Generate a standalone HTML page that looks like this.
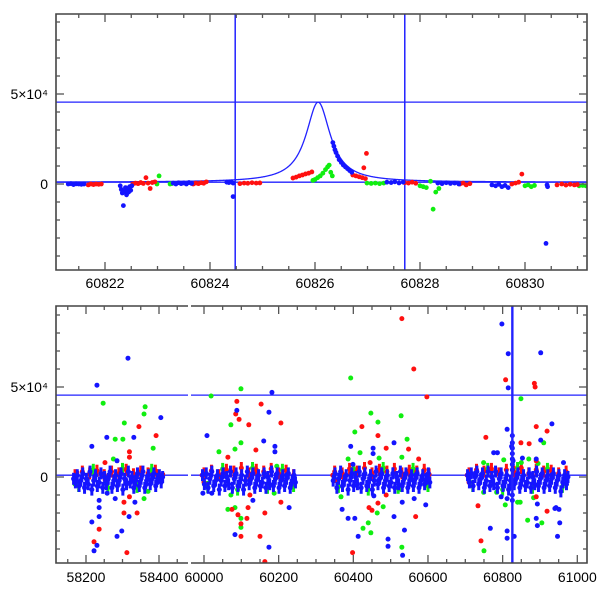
<!DOCTYPE html>
<html><head><meta charset="utf-8"><style>
html,body{margin:0;padding:0;background:#fff;}
svg{display:block;font-family:"Liberation Sans",sans-serif;}
</style></head><body>
<svg id="chart" width="600" height="600" viewBox="0 0 600 600" xmlns="http://www.w3.org/2000/svg">
<defs>
<clipPath id="cTop"><rect x="56" y="14" width="531" height="256"/></clipPath>
<clipPath id="cB1"><rect x="56" y="306" width="132" height="257"/></clipPath>
<clipPath id="cB2"><rect x="191" y="306" width="396" height="257"/></clipPath>
</defs>
<g id="top"></g>
<g id="bot"></g>
</svg>
<script>
// ---------- DATA (flux in units of 1e4) ----------
const topBlue = [[60821.30,0],[60821.35,0.02],[60821.40,-0.03],[60821.45,0.01],[60821.50,0],[60821.55,-0.02],[60821.60,0],
[60822.29,-0.1],[60822.31,-0.3],[60822.33,-0.5],[60822.35,-1.2],[60822.37,-0.4],[60822.39,-0.2],[60822.41,-0.6],[60822.43,-0.3],[60822.45,-0.45],[60822.47,-0.15],[60822.49,-0.35],[60822.51,-0.1],
[60823.30,0.05],[60823.35,0],[60823.40,0.07],[60823.45,0.02],[60823.50,0.06],[60823.55,0],[60823.60,0.08],[60823.65,0.03],
[60824.32,0.1],[60824.36,0.08],[60824.40,0.12],[60824.44,0.05],[60824.44,-0.7],
[60826.34,2.3],[60826.36,2.1],[60826.38,1.9],[60826.40,1.75],[60826.43,1.55],[60826.46,1.35],[60826.50,1.2],[60826.54,1.05],[60826.58,0.95],[60826.62,0.85],[60826.66,0.75],[60826.70,0.65],
[60827.37,0.1],[60827.45,0.08],[60827.52,0.12],[60827.60,0.06],[60827.68,0.1],
[60828.34,0.05],[60828.42,0.02],[60828.50,0.07],[60828.58,0.03],[60828.66,0.05],[60828.74,0],
[60829.37,-0.05],[60829.44,-0.1],[60829.50,-0.02],[60829.56,-0.15],[60829.62,-0.08],[60829.68,-0.2],
[60830.42,-0.05],[60830.43,-0.15],[60830.40,-3.3]];
const topRed = [[60821.68,-0.05],[60821.73,0],[60821.78,-0.03],[60821.83,0],[60821.88,-0.02],[60821.93,0],
[60822.53,0],[60822.58,0.05],[60822.63,0.02],[60822.68,0.08],[60822.73,0.03],[60822.78,0.35],[60822.82,0.05],[60822.86,-0.25],[60822.90,0.08],[60822.95,0.12],
[60823.68,0],[60823.73,0.05],[60823.78,0.02],[60823.83,0.07],[60823.88,0.04],[60823.93,0.12],
[60824.57,0.02],[60824.65,0.05],[60824.72,0.04],[60824.80,0.07],[60824.88,0.05],[60824.95,0.06],
[60825.58,0.33],[60825.64,0.38],[60825.70,0.45],[60825.76,0.5],[60825.82,0.56],[60825.88,0.6],[60825.94,0.67],
[60826.72,0.5],[60826.78,0.45],[60826.84,0.4],[60826.90,0.35],[60826.96,0.3],[60826.98,1.7],[60826.93,0.9],
[60827.71,0.07],[60827.78,0.05],[60827.85,0.1],[60827.92,0.04],
[60828.76,0],[60828.82,0.05],[60828.88,-0.05],[60828.95,0.02],
[60829.75,0],[60829.82,0.05],[60829.88,0.1],[60829.94,0.55],
[60830.61,-0.05],[60830.70,0],[60830.78,-0.06],[60830.86,-0.02],[60830.94,-0.05],[60831.00,-0.03]];
const topGreen = [[60822.99,0],[60823.03,0.45],[60823.24,0],[60823.27,0.02],
[60825.96,0.2],[60826.00,0.25],[60826.05,0.35],[60826.10,0.45],[60826.15,0.6],[60826.20,0.8],[60826.24,0.95],[60826.27,1.05],[60826.30,0.65],[60826.33,0.45],
[60826.99,0.05],[60827.07,0.03],[60827.15,0.05],[60827.23,0.02],[60827.31,0.05],
[60828.00,-0.1],[60828.06,-0.15],[60828.12,-0.2],[60828.20,0.15],[60828.25,-1.4],[60828.30,-0.45],[60828.36,-0.25],
[60830.00,-0.1],[60830.06,-0.05],[60830.12,-0.15],[60830.18,-0.08],
[60831.03,-0.1],[60831.10,-0.08],[60831.16,-0.1]];
const modelParams = [60826.06, 0.28, 4.45, 0.1]; // t0, width, amplitude, baseline
const hLines = [4.55, 0.1];
const topVLines = [60824.48, 60827.71];
const botVLine = [60826];
const topXTicks = [60822, 60824, 60826, 60828, 60830];
const yTickLabels = ["5×10⁴", "0"];
const yTickVals = [5, 0];
const botXTicks1 = [58200, 58400];
const botXTicks2 = [60000, 60200, 60400, 60600, 60800, 61000];

// bottom panel: outliers
const bBlue = [[58315,6.6],[58230,5.1],[58405,3.3],[58257,2.2],[58331,2.2],[58216,1.7],[58285,0.9],[58216,-2.5],[58222,-4.1],[58230,-3.8],[58285,-3.3],[58298,-3.0],[58236,-1.7],[58236,-2.2],[58318,-2.2],[58280,-1.2],[58334,-1.4],[58236,-1.3],[58258,-0.9],
[60182,4.7],[60088,3.7],[60174,3.6],[60008,2.3],[60160,2.0],[60190,1.7],[60190,1.4],[60174,-3.9],[60083,-3.2],[60131,-1.3],[60228,-1.7],[59997,-0.9],[60021,-0.9],
[60393,1.7],[60509,1.9],[60453,1.6],[60453,1.3],[60399,0.7],[60532,-4.35],[60493,-3.85],[60493,-3.45],[60413,-3.3],[60537,-2.95],[60509,-2.2],[60386,-2.3],[60404,-2.3],[60370,-1.8],[60531,-1.4],[60563,-1.2],[60594,-1.55],[60455,-1.05],
[60798,8.5],[60815,6.85],[60902,6.9],[60815,4.95],[60932,2.95],[60812,2.65],[60902,2.05],[60776,1.35],[60786,1.35],[60853,1.05],[60890,1.0],[60963,0.8],[60767,-2.85],[60812,-3.0],[60812,-3.4],[60831,-3.3],[60947,-3.3],[60890,-2.3],[60893,-2.7],[60953,-2.55],[60943,-1.7],[60951,-1.8],[60940,-1.75],[60796,-1.1],[60812,-1.2],[60893,-1.5],
[60826,2.3],[60826,1.9],[60826,1.6],[60826,1.3],[60826,1.0],[60826,0.7],[60826,-0.6],[60826,-1.0],[60826,-1.3],[60824,1.7],[60828,0.9]];
const bRed = [[58345,2.8],[58392,2.3],[58319,1.4],[58319,1.1],[58252,0.8],[58222,-3.6],[58312,-4.2],[58236,-2.9],[58304,-2.0],[58340,-2.0],[58304,-1.4],[58319,-1.1],[58175,0.25],[58395,0.3],[58410,0.15],
[60088,4.2],[60085,3.5],[60094,3.2],[60153,4.05],[60206,3.0],[60120,2.9],[60139,1.5],[60064,1.1],[60163,-4.7],[60150,-3.3],[60099,-3.3],[60099,-2.6],[60115,-2.3],[60091,-2.1],[60075,-1.8],[60206,-1.4],[60163,-2.0],[60118,-1.7],[60123,-1.0],[59995,0.1],[60000,-0.3],
[60530,8.8],[60562,6.0],[60597,4.45],[60423,2.8],[60466,2.3],[60488,1.6],[60548,1.55],[60575,1.0],[60445,0.8],[60398,-4.2],[60567,-2.2],[60442,-1.7],[60450,-1.85],[60466,-1.45],[60488,-1.0],[60345,0.1],[60350,-0.2],
[60808,5.4],[60885,5.2],[60887,5.0],[60890,2.8],[60919,2.55],[60755,2.2],[60849,1.9],[60871,1.85],[60890,0.9],[60742,-3.55],[60919,-1.9],[60734,-1.6],[60890,-1.1],[60705,0.1],[60710,-0.3],[60715,0.2]];
const bGreen = [[58247,4.1],[58362,3.9],[58359,3.5],[58305,3.0],[58280,2.1],[58301,2.1],[58384,1.6],[58275,1.0],[58359,-1.2],[58370,-0.8],[58170,-0.4],
[60019,4.5],[60099,4.9],[60072,2.9],[60099,1.9],[60040,1.4],[60083,1.55],[60195,0.6],[60099,-2.8],[60099,-2.3],[60064,-1.8],[60083,-1.7],[60072,-1.0],[60188,-0.9],
[60393,5.5],[60447,3.55],[60528,3.4],[60466,3.05],[60404,2.5],[60544,2.1],[60418,1.35],[60530,1.1],[60469,1.05],[60386,1.0],[60530,-3.9],[60426,-2.85],[60447,-3.1],[60440,-2.55],[60464,-2.0],[60480,-1.65],[60528,-0.7],[60367,-1.1],
[60849,4.35],[60910,1.9],[60803,0.95],[60850,0.8],[60870,1.0],[60895,0.75],[60749,0.8],[60750,-4.1],[60905,-2.55],[60867,-2.4],[60807,-1.55],[60840,-1.4],[60883,-1.15],[60847,-1.4],[60749,-0.85],[60784,-0.85]];
// bottom panel: dense photometry band
const bandBlue = [
[58166,-0.1],[58171,-0.3],[58176,0.1],[58181,-0.5],[58186,-0.2],[58191,0.2],[58196,-0.6],[58201,-0.1],[58206,-0.4],[58211,0.3],[58216,-0.7],[58221,-0.2],[58226,0.1],[58231,-0.5],[58236,-0.3],[58241,0.2],[58246,-0.6],[58251,0],[58256,-0.4],[58261,-0.1],[58266,0.3],[58271,-0.6],[58276,-0.2],[58281,0.1],[58286,-0.5],[58291,-0.2],[58296,0.2],[58301,-0.7],[58306,-0.1],[58311,-0.4],[58316,0.3],[58321,-0.3],[58326,0],[58331,-0.6],[58336,-0.2],[58341,0.2],[58346,-0.5],[58351,-0.1],[58356,0.3],[58361,-0.6],[58366,-0.2],[58371,0.1],[58376,-0.4],[58381,-0.1],[58386,0.2],[58391,-0.5],[58396,-0.1],[58401,0.1],[58406,-0.3],[58410,0],
[59996,0.1],[60001,-0.4],[60006,0.2],[60011,-0.6],[60016,-0.1],[60021,0.3],[60026,-0.5],[60031,-0.2],[60036,0.1],[60041,-0.7],[60046,-0.2],[60051,0.2],[60056,-0.5],[60061,0],[60066,-0.4],[60071,0.3],[60076,-0.6],[60081,-0.1],[60086,0.2],[60091,-0.5],[60096,-0.3],[60101,0.1],[60106,-0.7],[60111,-0.2],[60116,0.3],[60121,-0.4],[60126,-0.1],[60131,0.2],[60136,-0.6],[60141,-0.2],[60146,0.1],[60151,-0.5],[60156,-0.3],[60161,0.2],[60166,-0.6],[60171,0],[60176,-0.4],[60181,0.3],[60186,-0.5],[60191,-0.1],[60196,0.2],[60201,-0.6],[60206,-0.2],[60211,0.1],[60216,-0.5],[60221,-0.1],[60226,0.2],[60231,-0.6],[60236,-0.2],[60241,0.1],[60245,-0.3],
[60346,-0.2],[60351,0.2],[60356,-0.6],[60361,-0.1],[60366,0.3],[60371,-0.5],[60376,-0.2],[60381,0.1],[60386,-0.7],[60391,-0.2],[60396,0.2],[60401,-0.5],[60406,0],[60411,-0.4],[60416,0.3],[60421,-0.6],[60426,-0.1],[60431,0.2],[60436,-0.5],[60441,-0.3],[60446,0.1],[60451,-0.7],[60456,-0.2],[60461,0.3],[60466,-0.4],[60471,-0.1],[60476,0.2],[60481,-0.6],[60486,-0.2],[60491,0.1],[60496,-0.5],[60501,-0.3],[60506,0.2],[60511,-0.6],[60516,0],[60521,-0.4],[60526,0.3],[60531,-0.5],[60536,-0.1],[60541,0.2],[60546,-0.6],[60551,-0.2],[60556,0.1],[60561,-0.5],[60566,-0.1],[60571,0.2],[60576,-0.6],[60581,-0.2],[60586,0.1],[60591,-0.4],[60596,-0.1],[60601,0.2],[60605,-0.3],
[60706,0.1],[60711,-0.3],[60716,0.2],[60721,-0.5],[60726,0],[60731,0.3],[60736,-0.4],[60741,-0.1],[60746,0.2],[60751,-0.6],[60756,-0.2],[60761,0.3],[60766,-0.5],[60771,0],[60776,-0.4],[60781,0.3],[60786,-0.6],[60791,-0.1],[60796,0.2],[60801,-0.5],[60806,-0.3],[60811,0.1],[60816,-0.7],[60821,-0.2],[60826,0.4],[60831,-0.4],[60836,-0.1],[60841,0.2],[60846,-0.6],[60851,-0.2],[60856,0.1],[60861,-0.5],[60866,-0.3],[60871,0.2],[60876,-0.6],[60881,0],[60886,-0.4],[60891,0.3],[60896,-0.5],[60901,-0.1],[60906,0.2],[60911,-0.6],[60916,-0.2],[60921,0.1],[60926,-0.5],[60931,-0.1],[60936,0.2],[60941,-0.6],[60946,-0.2],[60951,0.1],[60956,-0.8],[60961,-0.3],[60966,0.1],[60971,-0.4],[60975,0]];
const bandRed = [[58170,0.1],[58190,0.3],[58210,0.2],[58230,0.35],[58250,0.1],[58270,0.3],[58290,0.2],[58310,0.4],[58330,0.15],[58350,0.3],[58370,0.2],[58390,0.35],
[60000,0.2],[60020,0.35],[60040,0.1],[60060,0.4],[60080,0.3],[60100,0.5],[60120,0.2],[60140,0.4],[60160,0.3],[60180,0.45],[60200,0.2],[60220,0.35],[60240,0.1],
[60350,0.3],[60370,0.2],[60390,0.45],[60410,0.3],[60430,0.5],[60450,0.2],[60470,0.4],[60490,0.3],[60510,0.45],[60530,0.2],[60550,0.35],[60570,0.3],[60590,0.4],[60603,0.15],
[60710,0.2],[60730,0.4],[60750,0.3],[60770,0.45],[60790,0.2],[60810,0.4],[60830,0.3],[60850,0.5],[60870,0.2],[60890,0.4],[60910,0.3],[60930,0.35],[60950,0.2],[60970,0.3]];
const bandGreen = [[58180,-0.5],[58220,0.4],[58260,-0.6],[58300,0.45],[58340,-0.55],[58380,0.4],
[60010,-0.55],[60050,0.45],[60090,-0.7],[60130,0.5],[60170,-0.6],[60210,0.4],[60240,-0.5],
[60360,-0.55],[60400,0.45],[60440,-0.7],[60480,0.5],[60520,-0.6],[60560,0.45],[60600,-0.5],
[60720,-0.5],[60760,0.45],[60800,-0.7],[60840,0.5],[60880,-0.6],[60920,0.45],[60960,-0.55]];

// ---------- SCALES ----------
const NS = "http://www.w3.org/2000/svg";
const xT = t => 105 + (t - 60822) * 52.5;
const yT = f => 184 - f * 18;
const yB = f => 477 - f * 18;
const xB1 = t => 86 + (t - 58200) * 0.365;
const xB2 = t => 204 + (t - 60000) * 0.3733;
const xB = t => (t < 59000 ? xB1(t) : xB2(t));
const COL = {blue:"#1414ff", red:"#ff1010", green:"#10ee10"};

function mk(parent, tag, attrs) {
  const e = document.createElementNS(NS, tag);
  for (const k in attrs) e.setAttribute(k, attrs[k]);
  parent.appendChild(e);
  return e;
}
const topG = document.getElementById("top");
const botG = document.getElementById("bot");

// ---------- TOP PANEL ----------
const topData = mk(topG, "g", {"clip-path":"url(#cTop)"});


hLines.forEach(v => {
  const l = mk(topData, "line", {x1:56, x2:587, y1:yT(v), y2:yT(v), stroke:"#2222ff", "stroke-width":1.3});
  
  
});
topVLines.forEach(v => {
  const l = mk(topData, "line", {x1:xT(v), x2:xT(v), y1:14, y2:270, stroke:"#2222ff", "stroke-width":1.5});
  
  
});
let d = "";
for (let t = 60821; t <= 60831.3; t += 0.01) {
  const f = modelParams[3] + modelParams[2] / (1 + Math.pow((t - modelParams[0]) / modelParams[1], 2));
  d += (d ? "L" : "M") + xT(t).toFixed(2) + "," + yT(f).toFixed(2);
}
const model = mk(topData, "path", {d:d, fill:"none", stroke:"#2222ff", "stroke-width":1.3});


[["green",topGreen],["red",topRed],["blue",topBlue]].forEach(([c, arr]) => {
  const g = mk(topData, "g", {fill:COL[c]});
  
  
  arr.forEach(p => {
    const pt = mk(g, "circle", {cx:xT(p[0]), cy:yT(p[1]), r:2.4});
    
    
  });
});
function framePath(g, dd, name) {
  const r = mk(g, "path", {d:dd, fill:"none", stroke:"#444", "stroke-width":1.6});
  
  
}
framePath(topG, "M56,14H587V270H56Z", "top-frame");
const tk = mk(topG, "g", {stroke:"#555", "stroke-width":1.3});


for (let t = 60821.5; t <= 60831.1; t += 0.5) {
  const x = xT(t), major = Math.abs(t / 2 - Math.round(t / 2)) < 1e-6;
  const L = major ? 8 : 4;
  mk(tk, "line", {x1:x, x2:x, y1:270, y2:270 - L});
  mk(tk, "line", {x1:x, x2:x, y1:14, y2:14 + L});
}
for (let f = -4; f <= 9; f++) {
  const y = yT(f), L = (f === 0 || f === 5) ? 8 : 4;
  mk(tk, "line", {x1:56, x2:56 + L, y1:y, y2:y});
  mk(tk, "line", {x1:587, x2:587 - L, y1:y, y2:y});
}
topXTicks.forEach(t => {
  const tx = mk(topG, "text", {x:xT(t), y:288, "text-anchor":"middle", "font-size":14, fill:"#000"});
  tx.textContent = t;
  
  
});
yTickVals.forEach((v, i) => {
  const tx = mk(topG, "text", {x:48, y:yT(v) + 5, "text-anchor":"end", "font-size":14, fill:"#000"});
  tx.textContent = yTickLabels[i];
  
  
});

// ---------- BOTTOM PANEL ----------
[["cB1",56,188],["cB2",191,587]].forEach(([clip, x0, x1], pi) => {
  const g = mk(botG, "g", {"clip-path":"url(#" + clip + ")"});
  
  
  hLines.forEach(v => {
    const l = mk(g, "line", {x1:x0, x2:x1, y1:yB(v), y2:yB(v), stroke:"#2222ff", "stroke-width":1.3});
    
    
  });
  const inPanel = t => pi === 0 ? t < 59000 : t >= 59000;
  const series = [["green",bandGreen,1],["red",bandRed,1],["green",bGreen,0],["red",bRed,0],["blue",bandBlue,1],["blue",bBlue,0]];
  series.forEach(([c, arr, band]) => {
    const sg = mk(g, "g", {fill:COL[c], stroke:COL[c]});
    
    
    arr.filter(p => inPanel(p[0])).forEach(p => {
      const x = xB(p[0]), y = yB(p[1]);
      if (band) {
        const eb = mk(sg, "line", {x1:x, x2:x, y1:y - 6, y2:y + 6, "stroke-width":3});
        
        
      }
      const pt = mk(sg, "circle", {cx:x, cy:y, r:2.5, stroke:"none"});
      
      
    });
  });
  if (pi === 1) {
    botVLine.forEach(v => {
      const l = mk(g, "line", {x1:xB2(v), x2:xB2(v), y1:306, y2:563, stroke:"#2222ff", "stroke-width":2.4});
      
      
    });
  }
});
framePath(botG, "M188,306H56V563H188", "season-frame-left");
framePath(botG, "M191,306H587V563H191", "season-frame-right");
const bt = mk(botG, "g", {stroke:"#555", "stroke-width":1.3});


for (let t = 58150; t <= 58480; t += 50) {
  const x = xB1(t), L = t % 200 === 0 ? 8 : 4;
  mk(bt, "line", {x1:x, x2:x, y1:563, y2:563 - L});
  mk(bt, "line", {x1:x, x2:x, y1:306, y2:306 + L});
}
for (let t = 60000; t <= 61000; t += 50) {
  const x = xB2(t), L = t % 200 === 0 ? 8 : 4;
  mk(bt, "line", {x1:x, x2:x, y1:563, y2:563 - L});
  mk(bt, "line", {x1:x, x2:x, y1:306, y2:306 + L});
}
for (let f = -4; f <= 9; f++) {
  const y = yB(f), L = (f === 0 || f === 5) ? 8 : 4;
  mk(bt, "line", {x1:56, x2:56 + L, y1:y, y2:y});
  mk(bt, "line", {x1:587, x2:587 - L, y1:y, y2:y});
}
botXTicks1.concat(botXTicks2).forEach(t => {
  const tx = mk(botG, "text", {x:xB(t), y:582, "text-anchor":"middle", "font-size":14, fill:"#000"});
  tx.textContent = t;
  
  
});
yTickVals.forEach((v, i) => {
  const tx = mk(botG, "text", {x:48, y:yB(v) + 5, "text-anchor":"end", "font-size":14, fill:"#000"});
  tx.textContent = yTickLabels[i];
  
  
});
</script>
</body></html>
